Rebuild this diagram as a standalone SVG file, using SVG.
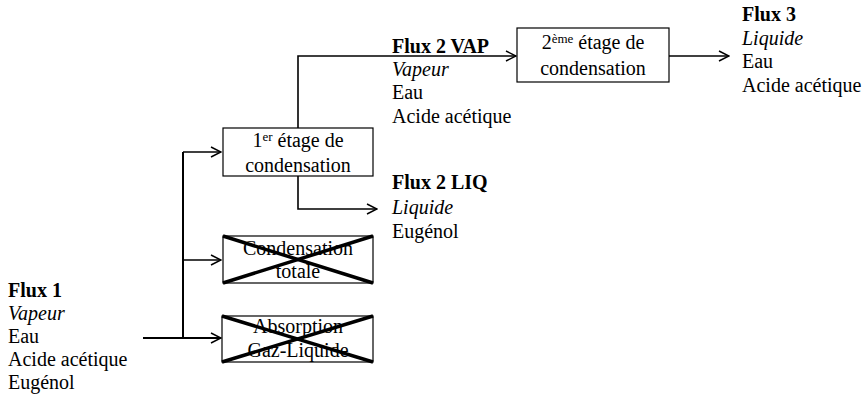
<svg xmlns="http://www.w3.org/2000/svg" width="864" height="398" viewBox="0 0 864 398">
<defs>
<marker id="arr" viewBox="0 0 12 12" refX="11" refY="6" markerWidth="12" markerHeight="12" markerUnits="userSpaceOnUse" orient="auto">
<path d="M1,1 L11,6 L1,11" fill="none" stroke="#000" stroke-width="1.5"/>
</marker>
</defs>
<style>
text{font-family:"Liberation Serif","Times New Roman",serif;font-size:20px;fill:#000}
.b{font-weight:bold}
.i{font-style:italic}
.c{text-anchor:middle}
.box{fill:#fff;stroke:#000;stroke-width:1.2}
.x{stroke:#000;stroke-width:3.5}
.ln{fill:none;stroke:#000;stroke-width:1.6}
.ln2{fill:none;stroke:#000;stroke-width:2}
.sup{font-size:13px}
</style>
<rect width="864" height="398" fill="#fff"/>
<g id="connectors">
<path class="ln2" d="M143,338 H221" marker-end="url(#arr)"/>
<path class="ln2" d="M183,338 V152"/>
<path class="ln" d="M183,152 H221" marker-end="url(#arr)"/>
<path class="ln" d="M183,260 H221" marker-end="url(#arr)"/>
<path class="ln" d="M298,128 V56 H516" marker-end="url(#arr)"/>
<path class="ln" d="M298,176 V209 H377" marker-end="url(#arr)"/>
<path class="ln" d="M669,56 H729" marker-end="url(#arr)"/>
</g>
<g id="node-stage1">
<rect class="box" x="223" y="128" width="150" height="48"/>
<text class="c" x="298" y="147">1<tspan class="sup" dy="-6">er</tspan><tspan dy="6"> étage de</tspan></text>
<text class="c" x="298" y="172">condensation</text>
</g>
<g id="node-stage2">
<rect class="box" x="517" y="28" width="152" height="54"/>
<text class="c" x="593" y="49">2<tspan class="sup" dy="-6">ème</tspan><tspan dy="6">  étage de</tspan></text>
<text class="c" x="593" y="75">condensation</text>
</g>
<g id="node-condensation-totale">
<rect class="box" x="223" y="236" width="150" height="47"/>
<text class="c" x="298" y="255">Condensation</text>
<text class="c" x="298" y="278">totale</text>
<line class="x" x1="223" y1="236" x2="373" y2="283"/>
<line class="x" x1="373" y1="236" x2="223" y2="283"/>
</g>
<g id="node-absorption">
<rect class="box" x="222" y="316" width="151" height="46"/>
<text class="c" x="298" y="333">Absorption</text>
<text class="c" x="298" y="357">Gaz-Liquide</text>
<line class="x" x1="222" y1="316" x2="373" y2="362"/>
<line class="x" x1="373" y1="316" x2="222" y2="362"/>
</g>
<g id="flux1">
<text class="b" x="8" y="297">Flux 1</text>
<text class="i" x="8" y="320">Vapeur</text>
<text x="8" y="343">Eau</text>
<text x="8" y="366">Acide acétique</text>
<text x="8" y="389">Eugénol</text>
</g>
<g id="flux2vap">
<text class="b" x="392" y="53">Flux 2 VAP</text>
<text class="i" x="392" y="76">Vapeur</text>
<text x="392" y="99">Eau</text>
<text x="392" y="123">Acide acétique</text>
</g>
<g id="flux2liq">
<text class="b" x="392" y="189">Flux 2 LIQ</text>
<text class="i" x="392" y="214">Liquide</text>
<text x="392" y="238">Eugénol</text>
</g>
<g id="flux3">
<text class="b" x="742" y="21">Flux 3</text>
<text class="i" x="742" y="45">Liquide</text>
<text x="742" y="68">Eau</text>
<text x="742" y="92">Acide acétique</text>
</g>
</svg>
